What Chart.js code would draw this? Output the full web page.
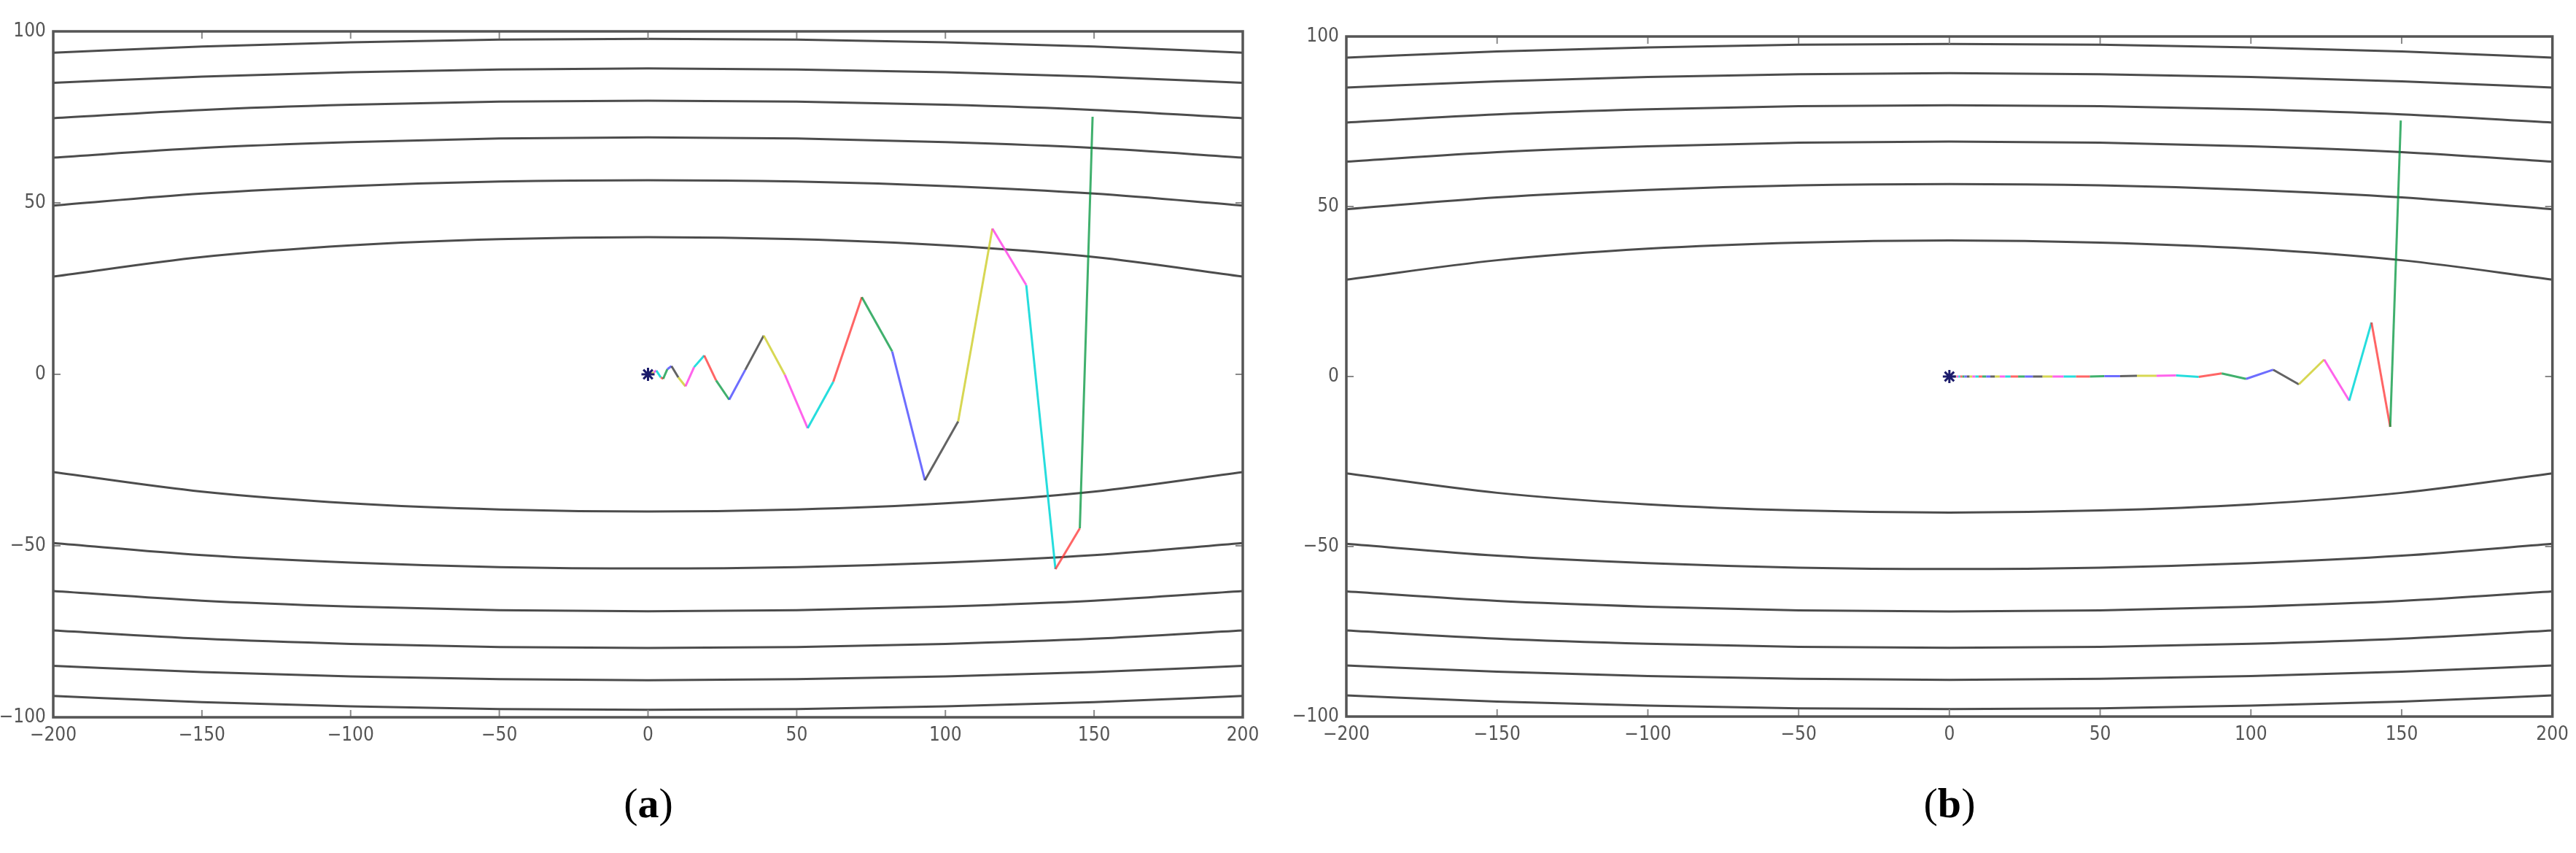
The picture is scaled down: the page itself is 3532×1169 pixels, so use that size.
<!DOCTYPE html>
<html>
<head>
<meta charset="utf-8">
<script src="https://cdn.jsdelivr.net/npm/chart.js@4.4.1/dist/chart.umd.min.js"></script>
<style>
  body { margin: 0; background: #fff; width: 3532px; height: 1169px; position: relative; overflow: hidden; }
  canvas { position: absolute; top: 0; }
  .cap { position: absolute; top: 1072px; width: 200px; text-align: center; font-family: 'Liberation Serif', 'DejaVu Serif', serif; font-size: 58px; line-height: 58px; color: #000; }
</style>
</head>
<body>
<canvas id="chartA" width="1770" height="1169" style="left:0px;width:1770px;height:1169px"></canvas>
<canvas id="chartB" width="1762" height="1169" style="left:1770px;width:1762px;height:1169px"></canvas>
<div class="cap" style="left:789px">(<b>a</b>)</div>
<div class="cap" style="left:2573px">(<b>b</b>)</div>
<script>
// axis ticks
const xTicks = [-200, -150, -100, -50, 0, 50, 100, 150, 200];
const yTicks = [-100, -50, 0, 50, 100];

// contour lines read at these x positions
const contourX = [-200, -150, -100, -50, 0, 50, 100, 150, 200];
const contourTop = [
    [28.5, 34.2, 37.6, 39.4, 40.0, 39.4, 37.6, 34.2, 28.5],
    [49.2, 52.7, 54.9, 56.2, 56.6, 56.2, 54.9, 52.7, 49.2],
    [63.2, 66.0, 67.7, 68.8, 69.1, 68.8, 67.7, 66.0, 63.2],
    [74.7, 77.1, 78.6, 79.5, 79.8, 79.5, 78.6, 77.1, 74.7],
    [85.0, 86.8, 88.1, 88.9, 89.2, 88.9, 88.1, 86.8, 85.0],
    [93.8, 95.6, 96.8, 97.6, 97.8, 97.6, 96.8, 95.6, 93.8]
];
const contourBottom = [
    [-28.5, -34.2, -37.6, -39.4, -40.0, -39.4, -37.6, -34.2, -28.5],
    [-49.2, -52.7, -54.9, -56.2, -56.6, -56.2, -54.9, -52.7, -49.2],
    [-63.2, -66.0, -67.7, -68.8, -69.1, -68.8, -67.7, -66.0, -63.2],
    [-74.7, -77.1, -78.6, -79.5, -79.8, -79.5, -78.6, -77.1, -74.7],
    [-85.0, -86.8, -88.1, -88.9, -89.2, -88.9, -88.1, -86.8, -85.0],
    [-93.8, -95.6, -96.8, -97.6, -97.8, -97.6, -96.8, -95.6, -93.8]
];

// (a) path from the start point to the minimum
const pathAX = [149.5, 145.2, 137.0, 127.2, 115.8, 104.3, 93.1, 82.1, 71.9, 62.3, 53.7, 46.0, 38.9, 32.7, 27.3, 22.9, 18.9, 15.5, 12.6, 10.2, 7.9, 6.5, 5.1, 4.3, 2.8, 2.0, 1.2, 0.6, 0];
const pathAY = [75.1, -44.9, -56.8, 26.0, 42.5, -13.7, -30.9, 6.7, 22.5, -2.2, -15.7, -0.1, 11.3, 1.3, -7.4, -1.8, 5.5, 2.1, -3.5, -0.9, 2.4, 1.5, -1.3, -0.9, 1.1, 0.6, 0.2, 0, 0];

// (b) path
const pathBX = [149.7, 146.2, 140.0, 132.6, 124.3, 115.9, 107.4, 98.4, 90.3, 82.7, 75.2, 68.7, 62.2, 56.6, 51.4, 46.6, 42.0, 37.9, 34.2, 30.9, 27.7, 25.0, 22.8, 20.3, 18.5, 16.7, 15.1, 13.6, 12.2, 10.9, 9.7, 8.6, 7.6, 6.7, 5.8, 5.0, 4.3, 3.6, 3.0, 2.4, 1.9, 1.4, 1.0, 0.6, 0.3, 0];
const pathBY = [75.3, -14.8, 15.9, -7.1, 5.0, -2.3, 2.0, -0.7, 0.9, -0.1, 0.3, 0.2, 0.2, 0.1, 0.1, 0, 0, 0, 0, 0, 0, 0, 0, 0, 0, 0, 0, 0, 0, 0, 0, 0, 0, 0, 0, 0, 0, 0, 0, 0, 0, 0, 0, 0, 0, 0];

// segment colours cycle (g r c m y k b)
const segColors = [
    'rgba(0,150,60,0.75)',
    'rgba(255,50,50,0.75)',
    'rgba(0,215,215,0.85)',
    'rgba(255,60,230,0.8)',
    'rgba(205,205,40,0.8)',
    'rgba(60,60,60,0.8)',
    'rgba(60,60,255,0.75)'
];

const tickFont = { family: "'Liberation Sans Narrow', 'DejaVu Sans Condensed', 'DejaVu Sans', sans-serif", size: 26 };
const fmt = v => v < 0 ? '\u2212' + Math.abs(v) : String(v);

// frame + inward tick marks, matplotlib classic look
const framePlugin = {
    id: 'frame',
    afterDatasetsDraw(chart) {
        const { ctx, chartArea: a, scales } = chart;
        ctx.save();
        ctx.strokeStyle = '#8a8a8a';
        ctx.lineWidth = 2;
        ctx.beginPath();
        xTicks.forEach(v => {
            const px = scales.x.getPixelForValue(v);
            ctx.moveTo(px, a.bottom); ctx.lineTo(px, a.bottom - 10);
            ctx.moveTo(px, a.top); ctx.lineTo(px, a.top + 10);
        });
        yTicks.forEach(v => {
            const py = scales.y.getPixelForValue(v);
            ctx.moveTo(a.left, py); ctx.lineTo(a.left + 10, py);
            ctx.moveTo(a.right, py); ctx.lineTo(a.right - 10, py);
        });
        ctx.stroke();
        ctx.strokeStyle = '#555';
        ctx.lineWidth = 3.5;
        ctx.strokeRect(a.left, a.top, a.right - a.left, a.bottom - a.top);
        ctx.restore();
    }
};

function contourSets() {
    return contourTop.concat(contourBottom).map(ys => ({
        data: contourX.map((x, i) => ({ x: x, y: ys[i] })),
        showLine: true,
        borderColor: 'rgba(45,45,45,0.85)',
        borderWidth: 3,
        pointRadius: 0,
        cubicInterpolationMode: 'monotone',
        order: 10
    }));
}

function pathSets(xs, ys) {
    const sets = [];
    for (let i = 0; i < xs.length - 1; i++) {
        sets.push({
            data: [{ x: xs[i], y: ys[i] }, { x: xs[i + 1], y: ys[i + 1] }],
            showLine: true,
            borderColor: segColors[i % segColors.length],
            borderWidth: 3,
            pointRadius: 0,
            order: 2
        });
    }
    // star at the minimum
    sets.push({
        data: [{ x: 0, y: 0 }],
        showLine: false,
        pointStyle: 'star',
        pointRadius: 9,
        borderColor: '#1c1c6b',
        backgroundColor: '#1c1c6b',
        borderWidth: 3,
        order: 0
    });
    return sets;
}

function makeChart(id, xs, ys, box) {
    new Chart(document.getElementById(id), {
        type: 'scatter',
        data: { datasets: contourSets().concat(pathSets(xs, ys)) },
        options: {
            responsive: false,
            animation: false,
            events: [],
            layout: { padding: { top: box.top, right: box.right, left: 0, bottom: 0 } },
            plugins: { legend: { display: false }, tooltip: { enabled: false }, title: { display: false } },
            scales: {
                x: {
                    type: 'linear', min: -200, max: 200,
                    afterBuildTicks: s => { s.ticks = xTicks.map(v => ({ value: v })); },
                    afterFit: s => { s.height = box.xAxisH; },
                    grid: { display: false, drawTicks: false },
                    border: { display: false },
                    ticks: { color: '#555', font: tickFont, padding: 10, maxRotation: 0, autoSkip: false, callback: fmt }
                },
                y: {
                    type: 'linear', min: -100, max: 100,
                    afterBuildTicks: s => { s.ticks = yTicks.map(v => ({ value: v })); },
                    afterFit: s => { s.width = box.yAxisW; },
                    grid: { display: false, drawTicks: false },
                    border: { display: false },
                    ticks: { color: '#555', font: tickFont, padding: 10, autoSkip: false, callback: fmt }
                }
            }
        },
        plugins: [framePlugin]
    });
}

makeChart('chartA', pathAX, pathAY, { top: 43, right: 66, yAxisW: 73, xAxisH: 186 });
makeChart('chartB', pathBX, pathBY, { top: 50, right: 32, yAxisW: 76, xAxisH: 187 });
</script>
</body>
</html>
